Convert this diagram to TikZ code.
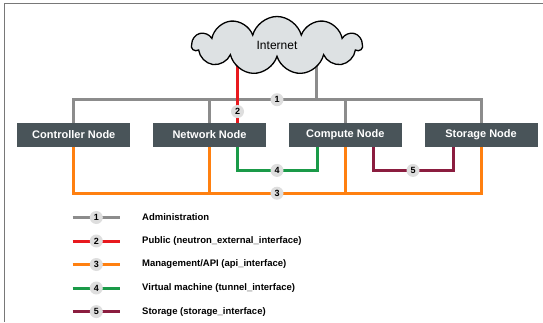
\documentclass[tikz,border=0pt]{standalone}
\usepackage{fontspec}
\setmainfont{Liberation Sans}
\usetikzlibrary{shapes.symbols,backgrounds}

\definecolor{hostgray}{RGB}{73 84 89}
\definecolor{cloudgray}{RGB}{221 225 227}
\definecolor{taggray}{RGB}{222 222 222}
\definecolor{framegray}{RGB}{120 120 120}
\definecolor{admgray}{RGB}{140 140 140}
\definecolor{pubred}{RGB}{232 25 30}
\definecolor{mgmtorange}{RGB}{255 128 16}
\definecolor{vmgreen}{RGB}{26 154 72}
\definecolor{stormaroon}{RGB}{139 29 63}

\tikzset{
	host/.style={fill=hostgray, text=white, inner sep=0pt,
		minimum width=113pt, minimum height=23.5pt,
		font=\bfseries\fontsize{11}{13}\selectfont},
	tag/.style={circle, fill=taggray, inner sep=0pt, minimum size=13pt,
		font=\bfseries\fontsize{9}{9}\selectfont},
	wire/.style={line width=3pt},
	net1/.style={wire, draw=admgray},
	net2/.style={wire, draw=pubred},
	net3/.style={wire, draw=mgmtorange},
	net4/.style={wire, draw=vmgreen},
	net5/.style={wire, draw=stormaroon}
}

\begin{document}
\begin{tikzpicture}[x=1pt, y=-1pt]

	\useasboundingbox (0,0) rectangle (543,322);

	% frame
	\draw[framegray, line width=1.2pt] (543,3.5) -- (4.5,3.5) -- (4.5,322);

	% internet
	\node[cloud, cloud puffs=11, aspect=2.8, draw=black, line width=1.3pt,
		fill=cloudgray, minimum width=170pt, minimum height=58pt,
		font=\fontsize{12}{14}\selectfont] (inet) at (277,45.5) {Internet};

	% hosts
	\node[host] (ctrl) at (73.8,135) {Controller Node};
	\node[host] (netw) at (209.5,135) {Network Node};
	\node[host] (comp) at (345.3,135) {Compute Node};
	\node[host] (stor) at (481,135) {Storage Node};

	% bus points
	\coordinate (bus1) at (277,99.7);
	\coordinate (bus2) at (237.5,111.5);
	\coordinate (bus3) at (277,193.2);
	\coordinate (bus4) at (277,170.4);
	\coordinate (bus5) at (413,170.4);
	\coordinate (up1) at (316.8,0);

	\begin{pgfonlayer}{background}
		\fill[white] (0,0) rectangle (543,322);

		% 1 administration
		\draw[net1] (ctrl.north) |- (bus1) -| (stor.north);
		\draw[net1] (netw.north) -- (netw.north |- bus1);
		\draw[net1] (comp.north) -- (comp.north |- bus1);
		\draw[net1] (inet.center -| up1) -- (bus1 -| up1);

		% 2 public
		\draw[net2] (inet.center -| bus2) -- (netw.north -| bus2);

		% 3 management
		\draw[net3] (ctrl.south) |- (bus3) -| (stor.south);
		\draw[net3] (netw.south) -- (netw.south |- bus3);
		\draw[net3] (comp.south) -- (comp.south |- bus3);

		% 4 virtual machine
		\draw[net4] ([xshift=28pt]netw.south) |- (bus4) -| ([xshift=-28pt]comp.south);

		% 5 storage
		\draw[net5] ([xshift=28pt]comp.south) |- (bus5) -| ([xshift=-28pt]stor.south);
	\end{pgfonlayer}

	% tags
	\foreach \i in {1,...,5} {
		\node[tag] (tag\i) at (bus\i) {\i};
	}

	% legend
	\foreach \i/\y/\txt in {
		1/217.5/{Administration},
		2/241/{Public (neutron\_external\_interface)},
		3/264.5/{Management/API (api\_interface)},
		4/288/{Virtual machine (tunnel\_interface)},
		5/311.6/{Storage (storage\_interface)}
	} {
		\coordinate (keyl\i) at (72.7,\y);
		\coordinate (keyr\i) at (120.2,\y);
		\draw[net\i] (keyl\i) -- (keyr\i);
		\node[tag] (key\i) at (96.3,\y) {\i};
		\node[anchor=west, inner sep=0pt, font=\bfseries\fontsize{9.5}{11}\selectfont]
			(keytxt\i) at (142,\y) {\txt};
	}
\end{tikzpicture}
\end{document}
